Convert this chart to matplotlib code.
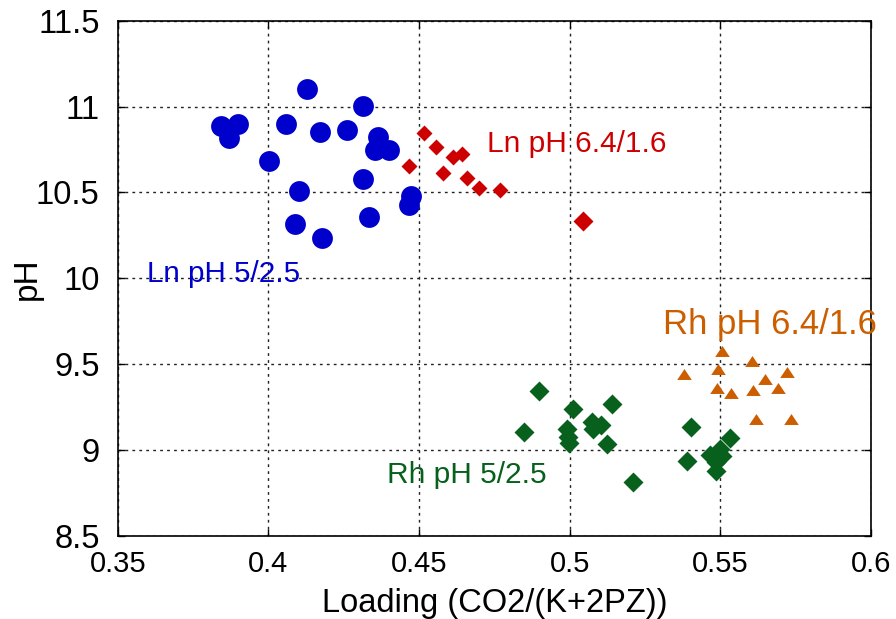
import matplotlib
matplotlib.use("Agg")
import matplotlib.pyplot as plt

plt.rcParams['font.family'] = ['Liberation Sans', 'DejaVu Sans']

# Ln pH 5/2.5 (blue circles)
ln52_x = [0.3843, 0.3900, 0.3870, 0.4129, 0.4313, 0.4058, 0.4172, 0.4260, 0.4365, 0.4354,
          0.4400, 0.4001, 0.4314, 0.4102, 0.4473, 0.4466, 0.4087, 0.4333, 0.4178]
ln52_y = [10.889, 10.897, 10.815, 11.102, 11.003, 10.897, 10.854, 10.864, 10.821, 10.747,
          10.747, 10.685, 10.577, 10.507, 10.480, 10.427, 10.315, 10.356, 10.237]

# Ln pH 6.4/1.6 (red diamonds)
ln64_x = [0.4516, 0.4558, 0.4467, 0.4614, 0.4641, 0.4580, 0.4660, 0.4700, 0.4768]
ln64_y = [10.845, 10.767, 10.654, 10.708, 10.724, 10.615, 10.586, 10.524, 10.515]
ln64_extra_x = [0.5043]
ln64_extra_y = [10.334]

# Rh pH 5/2.5 (green diamonds)
rh52_x = [0.4897, 0.5010, 0.5141, 0.4849, 0.4990, 0.4995, 0.4997, 0.5073, 0.5076, 0.5103,
          0.5124, 0.5209, 0.5401, 0.5388, 0.5532, 0.5498, 0.5465, 0.5485, 0.5485, 0.5505]
rh52_y = [9.345, 9.238, 9.267, 9.106, 9.122, 9.079, 9.040, 9.166, 9.122, 9.147,
          9.036, 8.813, 9.133, 8.937, 9.069, 9.007, 8.969, 8.931, 8.879, 8.966]

# Rh pH 6.4/1.6 (orange triangles)
rh64_x = [0.5504, 0.5604, 0.5380, 0.5491, 0.5648, 0.5720, 0.5489, 0.5535, 0.5610, 0.5693,
          0.5620, 0.5734]
rh64_y = [9.579, 9.521, 9.442, 9.474, 9.413, 9.453, 9.362, 9.335, 9.350, 9.362,
          9.183, 9.183]

x_ticks = [0.35, 0.4, 0.45, 0.5, 0.55, 0.6]
x_tick_labels = ['0.35', '0.4', '0.45', '0.5', '0.55', '0.6']
y_ticks = [8.5, 9, 9.5, 10, 10.5, 11, 11.5]
y_tick_labels = ['8.5', '9', '9.5', '10', '10.5', '11', '11.5']

labels = ['Ln pH 6.4/1.6', 'Ln pH 5/2.5', 'Rh pH 6.4/1.6', 'Rh pH 5/2.5']
label_x = [0.4726, 0.3598, 0.5309, 0.4393]
label_y = [10.737, 9.981, 9.675, 8.809]

BLUE = '#0000CC'
RED = '#CC0000'
GREEN = '#07601C'
ORANGE = '#CC5E00'
label_colors = [RED, BLUE, ORANGE, GREEN]
label_sizes = [21.5, 21.3, 25, 21.5]

fig = plt.figure(figsize=(8.96, 6.19), dpi=100)
ax = fig.add_axes([117.7 / 896, 1 - 536 / 619, (871 - 117.7) / 896, (536 - 20.7) / 619])

tri = [(-1, -0.75), (1, -0.75), (0, 0.75)]

ax.plot(ln52_x, ln52_y, 'o', color=BLUE, ms=15, mec='none', zorder=3)
ax.plot(ln64_x, ln64_y, 'D', color=RED, ms=8.6, mec='none', zorder=3)
ax.plot(ln64_extra_x, ln64_extra_y, 'D', color=RED, ms=10.5, mec='none', zorder=3)
ax.plot(rh52_x, rh52_y, 'D', color=GREEN, ms=10.5, mec='none', zorder=3)
ax.plot(rh64_x, rh64_y, marker=tri, ls='none', color=ORANGE, ms=10.5, mec='none', zorder=3)

for t, x, y, c, fs in zip(labels, label_x, label_y, label_colors, label_sizes):
    ax.text(x, y, t, color=c, fontsize=fs, ha='left', va='baseline', zorder=4)

ax.set_xlim(0.35, 0.6)
ax.set_ylim(8.5, 11.5)
ax.set_xticks(x_ticks)
ax.set_xticklabels(x_tick_labels)
ax.set_yticks(y_ticks)
ax.set_yticklabels(y_tick_labels)
ax.tick_params(direction='in', length=5, width=1, top=True, right=True)
ax.tick_params(axis='x', labelsize=21, pad=10)
ax.tick_params(axis='y', labelsize=23.5, pad=13)
ax.grid(True, color='#222222', linestyle=(0, (2, 3)), linewidth=1)
ax.set_axisbelow(True)
for s in ax.spines.values():
    s.set_linewidth(1.2)
    s.set_color('black')

ax.set_xlabel('Loading (CO2/(K+2PZ))', fontsize=23.5, labelpad=7)
ax.set_ylabel('pH', fontsize=24)
ax.yaxis.set_label_coords(-0.099, 0.5)

fig.savefig('out.png', dpi=100)
